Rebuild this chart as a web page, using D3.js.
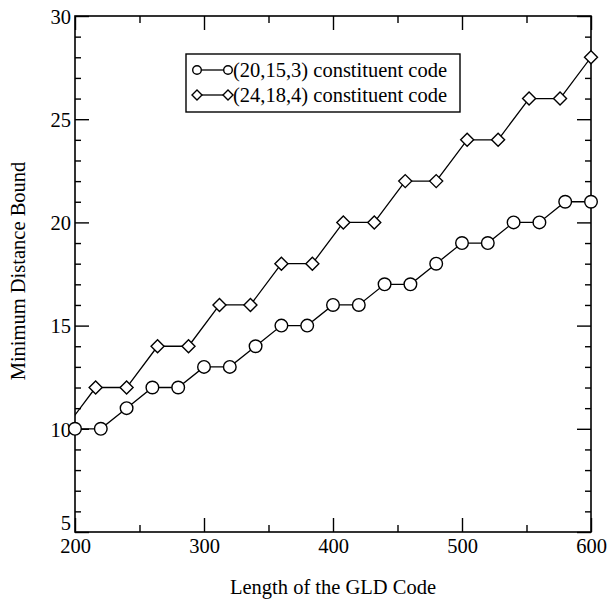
<!DOCTYPE html>
<html>
<head>
<meta charset="utf-8">
<script src="https://cdn.jsdelivr.net/npm/d3@7"></script>
<style>
  body { margin:0; background:#fff; }
  svg { display:block; font-family:"Liberation Serif","DejaVu Serif",serif; }
  .frame { fill:none; stroke:#000; stroke-width:1.6; }
  .axis path { display:none; }
  .axis line { stroke:#000; stroke-width:1.4; }
  .axis text { font-size:20.5px; fill:#000; font-family:"Liberation Serif",serif; }
  .series { fill:none; stroke:#000; stroke-width:1.3; }
  .mk { fill:#fff; stroke:#000; stroke-width:1.4; }
</style>
</head>
<body>
<div id="chart"></div>
<script>
/* ---- data ---- */
const LEN_A = [200,220,240,260,280,300,320,340,360,380,400,420,440,460,480,500,520,540,560,580,600];
const DIST_A = [10,10,11,12,12,13,13,14,15,15,16,16,17,17,18,19,19,20,20,21,21];
const LEN_B = [192,216,240,264,288,312,336,360,384,408,432,456,480,504,528,552,576,600];
const DIST_B = [10,12,12,14,14,16,16,18,18,20,20,22,22,24,24,26,26,28];
const SERIES_NAMES = ["(20,15,3) constituent code", "(24,18,4) constituent code"];
const X_TICKS = [200,300,400,500,600];
const Y_TICKS = [5,10,15,20,25,30];

const W=608, H=599, M={top:16,right:17,bottom:67,left:75};
const IW=W-M.left-M.right, IH=H-M.top-M.bottom;

const x = d3.scaleLinear().domain([200,600]).range([0,IW]);
const y = d3.scaleLinear().domain([5,30]).range([IH,0]);

const svg = d3.select("#chart").append("svg").attr("width",W).attr("height",H);
const g = svg.append("g").attr("transform",`translate(${M.left},${M.top})`);

svg.append("defs").append("clipPath").attr("id","clip")
  .append("rect").attr("width",IW).attr("height",IH);

// minor ticks (inward), all four sides
const xMinor = d3.range(250,600,100), yMinor = d3.range(5,30,1).filter(v => v%5);
g.append("g").attr("class","axis").attr("transform",`translate(0,${IH})`)
  .call(d3.axisBottom(x).tickValues(xMinor).tickSize(-7).tickFormat(""));
g.append("g").attr("class","axis")
  .call(d3.axisTop(x).tickValues(xMinor).tickSize(-7).tickFormat(""));
g.append("g").attr("class","axis")
  .call(d3.axisLeft(y).tickValues(yMinor).tickSize(-6).tickFormat(""));
g.append("g").attr("class","axis").attr("transform",`translate(${IW},0)`)
  .call(d3.axisRight(y).tickValues(yMinor).tickSize(-6).tickFormat(""));

// major ticks with labels
g.append("g").attr("class","axis").attr("transform",`translate(0,${IH})`)
  .call(d3.axisBottom(x).tickValues(X_TICKS).tickSize(-14).tickFormat(d3.format("d")))
  .selectAll("text").attr("y",21).attr("dy",0);
g.append("g").attr("class","axis")
  .call(d3.axisTop(x).tickValues(X_TICKS).tickSize(-14).tickFormat(""));
const yl = g.append("g").attr("class","axis")
  .call(d3.axisLeft(y).tickValues(Y_TICKS).tickSize(-14).tickFormat(d3.format("d")));
yl.selectAll("text").attr("x",-4).attr("dy","0.36em");
yl.selectAll("text").filter(d => d===5).attr("dy","-0.12em");
g.append("g").attr("class","axis").attr("transform",`translate(${IW},0)`)
  .call(d3.axisRight(y).tickValues(Y_TICKS).tickSize(-14).tickFormat(""));

g.append("rect").attr("class","frame").attr("width",IW).attr("height",IH);

// series
const A = LEN_A.map((v,i) => ({x:v, y:DIST_A[i]}));
const B = LEN_B.map((v,i) => ({x:v, y:DIST_B[i]}));
const line = d3.line().x(d=>x(d.x)).y(d=>y(d.y));
const plot = g.append("g").attr("clip-path","url(#clip)");
plot.append("path").datum(A).attr("class","series").attr("d",line);
plot.append("path").datum(B).attr("class","series").attr("d",line);

const diamond = r => `M0,${-r}L${r},0L0,${r}L${-r},0Z`;
g.append("g").selectAll("circle").data(A).enter().append("circle").attr("class","mk")
  .attr("r",6.3).attr("cx",d=>x(d.x)).attr("cy",d=>y(d.y));
g.append("g").selectAll("path").data(B.filter(d => d.x>=200)).enter().append("path").attr("class","mk")
  .attr("d",diamond(6.5)).attr("transform",d=>`translate(${x(d.x)},${y(d.y)})`);

// legend
const lg = svg.append("g").attr("transform","translate(186,54)");
lg.append("rect").attr("width",274).attr("height",58).attr("fill","#fff").attr("stroke","#000").attr("stroke-width",1.4);
const rows = lg.selectAll("g.row").data(SERIES_NAMES).enter().append("g").attr("class","row")
  .attr("transform",(d,i)=>`translate(0,${16+i*25})`);
rows.append("line").attr("x1",11).attr("x2",42).attr("stroke","#000").attr("stroke-width",1.3);
rows.filter((d,i)=>i===0).selectAll("circle").data([11,42]).enter().append("circle")
  .attr("class","mk").attr("r",4.3).attr("cx",d=>d);
rows.filter((d,i)=>i===1).selectAll("path").data([11,42]).enter().append("path")
  .attr("class","mk").attr("d",diamond(5)).attr("transform",d=>`translate(${d},0)`);
rows.append("text").attr("x",47).attr("dy","0.33em").attr("font-size","20.5px").text(d=>d);

// axis titles
svg.append("text").attr("x",333).attr("y",594).attr("text-anchor","middle")
  .attr("font-size","20.5px").text("Length of the GLD Code");
svg.append("text").attr("transform","translate(25,271) rotate(-90)").attr("text-anchor","middle")
  .attr("font-size","20.5px").text("Minimum Distance Bound");
</script>
</body>
</html>
